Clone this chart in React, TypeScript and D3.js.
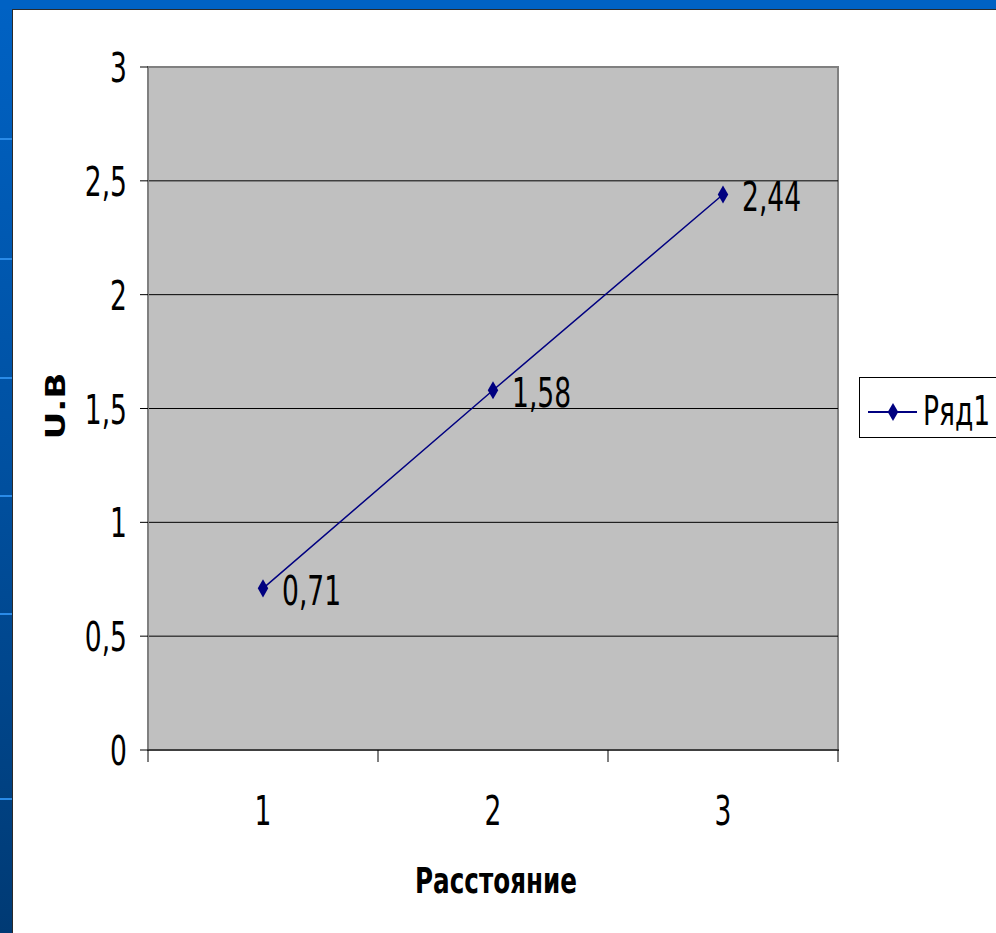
import { useMemo } from 'react'
import * as d3 from 'd3'

const categories = ['1', '2', '3']
const values = [0.71, 1.58, 2.44]
const valueLabels = ['0,71', '1,58', '2,44']
const yTicks = [0, 0.5, 1, 1.5, 2, 2.5, 3]
const seriesName = 'Ряд1'
const xTitle = 'Расстояние'
const yTitle = 'U.B'
const frameMarks = [138, 258, 377, 495, 613, 798]

const W = 996
const H = 933
const NUM_FONT = '"DejaVu Sans Condensed", "DejaVu Sans", sans-serif'
const SQUISH = 0.72

const fmt = (v: number) => String(v).replace('.', ',')

// narrow text: the source looks horizontally compressed
const NText = ({
  x,
  y,
  children,
  anchor = 'start',
  size = 41,
}: {
  x: number
  y: number
  children: string
  anchor?: string
  size?: number
}) => (
  <g transform={`translate(${x},${y}) scale(${SQUISH},1)`}>
    <text fontFamily={NUM_FONT} fontSize={size} textAnchor={anchor} fill="#000">
      {children}
    </text>
  </g>
)

export default function App() {
  const margin = useMemo(() => ({ top: 67, left: 148, right: 838, bottom: 750 }), [])

  const x = d3.scaleBand().domain(categories).range([margin.left, margin.right])
  const y = d3.scaleLinear().domain([0, 3]).range([margin.bottom, margin.top])
  const cx = (c: string) => (x(c) ?? 0) + x.bandwidth() / 2

  const line = d3
    .line<number>()
    .x((_, i) => cx(categories[i]))
    .y((d) => y(d))
  const diamond = d3.symbol(d3.symbolDiamond, 95)() || ''

  const boundaries = [...categories.map((c) => x(c) ?? 0), margin.right]

  return (
    <svg
      width={W}
      height={H}
      style={{ position: 'absolute', left: 0, top: 0, display: 'block' }}
    >
      <defs>
        <linearGradient id="frame" x1="0" y1="0" x2="0" y2="1">
          <stop offset="0" stopColor="#0062c4" />
          <stop offset="0.5" stopColor="#0050a0" />
          <stop offset="1" stopColor="#003a74" />
        </linearGradient>
      </defs>

      {/* slide frame */}
      <rect x={0} y={0} width={W} height={H} fill="url(#frame)" />
      <rect x={0} y={0} width={W} height={9} fill="#0062c4" />
      {frameMarks.map((m) => (
        <rect key={m} x={0} y={m} width={12} height={2} fill="#2a8be8" />
      ))}
      <rect x={12} y={9} width={W - 12} height={H - 9} fill="#ffffff" />
      <line x1={12} x2={W} y1={9.5} y2={9.5} stroke="#2a2a2a" strokeWidth={1} />
      <line x1={12.5} x2={12.5} y1={9} y2={H} stroke="#2a2a2a" strokeWidth={1} />

      {/* plot area */}
      <rect
        x={margin.left}
        y={margin.top}
        width={margin.right - margin.left}
        height={margin.bottom - margin.top}
        fill="#c0c0c0"
        stroke="#808080"
        strokeWidth={2}
      />

      {yTicks.slice(1, -1).map((t) => (
        <line key={t} x1={margin.left} x2={margin.right} y1={y(t)} y2={y(t)} stroke="#000" strokeWidth={1} />
      ))}

      {/* y axis */}
      <line x1={margin.left} x2={margin.left} y1={margin.top} y2={margin.bottom} stroke="#808080" strokeWidth={2} />
      {yTicks.map((t) => (
        <g key={t}>
          <line x1={140} x2={margin.left} y1={y(t)} y2={y(t)} stroke="#000" strokeWidth={1} />
          <NText x={127} y={y(t) + 15} anchor="end">
            {fmt(t)}
          </NText>
        </g>
      ))}

      {/* x axis */}
      <line x1={margin.left - 1} x2={margin.right + 1} y1={margin.bottom} y2={margin.bottom} stroke="#404040" strokeWidth={2} />
      {boundaries.map((b, i) => (
        <line key={i} x1={b} x2={b} y1={margin.bottom} y2={margin.bottom + 12} stroke="#000" strokeWidth={1} />
      ))}
      {categories.map((c) => (
        <NText key={c} x={cx(c)} y={825} anchor="middle">
          {c}
        </NText>
      ))}

      {/* series */}
      <path d={line(values) || ''} fill="none" stroke="#000080" strokeWidth={1.5} />
      {values.map((v, i) => (
        <g key={i}>
          <path d={diamond} transform={`translate(${cx(categories[i])},${y(v)})`} fill="#000080" />
          <NText x={cx(categories[i]) + 19} y={y(v) + 17}>
            {valueLabels[i]}
          </NText>
        </g>
      ))}

      {/* axis titles */}
      <text
        x={496}
        y={893}
        textAnchor="middle"
        fontFamily='"DejaVu Sans Condensed", "DejaVu Sans", sans-serif'
        fontWeight="bold"
        fontSize={36}
        textLength={162}
        lengthAdjust="spacingAndGlyphs"
      >
        {xTitle}
      </text>
      <text
        transform="translate(65,406) rotate(-90)"
        x={0}
        y={0}
        textAnchor="middle"
        fontFamily='"DejaVu Sans", sans-serif'
        fontWeight="bold"
        fontSize={27}
        textLength={67}
        lengthAdjust="spacingAndGlyphs"
      >
        {yTitle}
      </text>

      {/* legend */}
      <rect x={859.5} y={377.5} width={160} height={60} fill="#fff" stroke="#000" strokeWidth={1} />
      <line x1={868} x2={917} y1={412} y2={412} stroke="#000080" strokeWidth={2} />
      <path d={diamond} transform="translate(893,412)" fill="#000080" />
      <NText x={923} y={425}>
        {seriesName}
      </NText>
    </svg>
  )
}
